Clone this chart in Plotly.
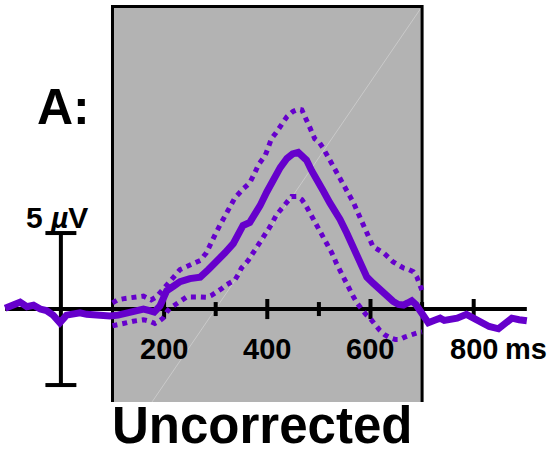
import plotly.graph_objects as go

# ERP waveform (µV) against time (ms)
erp_time = [-108, -90, -79, -66, -53, -40, -28, -15, -2, 11, 24, 37, 50, 63, 80, 95,
            111, 127, 143, 160, 172, 181, 192, 205, 218, 231, 250, 270, 286, 302, 318,
            334, 345, 353, 366, 376, 386, 399, 412, 425, 438, 449, 460, 468, 476, 486,
            496, 508, 521, 531, 541, 554, 567, 580, 593, 605, 618, 631, 644, 654, 664,
            672, 680, 688, 696, 704, 712, 723, 735, 743, 751, 768, 786, 799, 812, 830,
            848, 861, 874, 888, 903]
erp_uv = [0.05, 0.3, 0.45, 0.15, 0.25, 0.0, -0.1, -0.4, -0.9, -0.4, -0.3, -0.25, -0.35,
          -0.4, -0.4, -0.45, -0.4, -0.3, -0.15, 0.0, -0.1, -0.2, 0.2, 1.2, 1.5, 1.8, 2.0,
          2.1, 2.6, 3.1, 3.7, 4.3, 4.9, 5.5, 5.7, 6.2, 6.8, 7.7, 8.6, 9.3, 9.9, 10.2, 10.3,
          10.1, 9.8, 9.1, 8.6, 7.8, 7.0, 6.5, 5.9, 5.0, 4.1, 3.1, 2.1, 1.7, 1.25, 0.8, 0.5,
          0.3, 0.26, 0.4, 0.55, 0.3, -0.1, -0.6, -0.9, -0.75, -0.6, -0.75, -0.7, -0.6,
          -0.35, -0.6, -0.9, -1.15, -1.3, -1.0, -0.6, -0.7, -0.77]

# Upper confidence bound inside the analysis window
upper_time = [100, 110, 125, 140, 160, 175, 185, 198, 210, 220, 231, 244, 257, 270, 282,
              290, 299, 308, 318, 328, 337, 353, 366, 375, 383, 396, 408, 417, 425, 438,
              450, 460, 467, 476, 483, 492, 500, 508, 521, 528, 538, 547, 557, 567, 580,
              593, 605, 615, 625, 635, 644, 654, 664, 674, 683, 690, 695, 700]
upper_uv = [0.4, 0.6, 0.7, 0.8, 0.85, 0.6, 0.8, 1.3, 1.8, 2.2, 2.6, 2.8, 3.0, 3.2, 3.7,
            4.2, 4.9, 5.5, 6.1, 6.7, 7.3, 7.9, 8.3, 8.9, 9.5, 10.1, 11.2, 11.6, 12.0,
            12.65, 13.0, 13.15, 13.1, 12.5, 11.9, 11.2, 11.0, 10.6, 9.8, 9.4, 8.8, 8.2,
            7.6, 7.0, 6.0, 5.0, 4.1, 3.9, 3.7, 3.4, 3.1, 2.9, 2.7, 2.6, 2.45, 2.1, 1.6, 1.2]

# Lower confidence bound inside the analysis window
lower_time = [100, 110, 121, 140, 160, 172, 182, 190, 198, 205, 211, 220, 227, 236, 244,
              263, 283, 292, 302, 312, 321, 337, 344, 350, 363, 371, 379, 392, 405, 418,
              431, 440, 447, 458, 467, 475, 483, 491, 499, 507, 515, 525, 534, 544, 554,
              561, 567, 575, 583, 591, 599, 608, 618, 628, 638, 648, 657, 666, 676, 684,
              692, 700]
lower_uv = [-1.1, -1.05, -0.95, -0.8, -0.7, -0.8, -0.95, -0.8, -0.6, -0.2, 0.05, 0.25,
            0.4, 0.6, 0.8, 0.8, 0.77, 0.9, 1.1, 1.35, 1.6, 1.9, 2.3, 2.7, 3.2, 3.6, 4.0,
            4.65, 5.4, 6.2, 6.8, 7.2, 7.4, 7.4, 7.2, 6.8, 6.3, 5.8, 5.4, 4.9, 4.4, 3.7,
            3.0, 2.3, 1.7, 1.2, 0.8, 0.35, -0.07, -0.35, -0.6, -1.0, -1.4, -1.7, -1.9,
            -2.0, -2.0, -1.85, -1.7, -1.6, -1.55, -1.5]

window_ms = [100, 700]
tick_ms = [200, 300, 400, 500, 600, 700, 800]
tick_labels = ["200", "400", "600", "800"]
time_unit = "ms"
scale_uv = 5
panel_label = "A:"
condition_label = "Uncorrected"

PURPLE = "#6600CC"
FONT = "Liberation Sans, Arial, Helvetica, sans-serif"

fig = go.Figure()

fig.add_trace(go.Scatter(x=upper_time, y=upper_uv, mode="lines",
                         line=dict(color=PURPLE, width=5, dash="5px,5px")))
fig.add_trace(go.Scatter(x=lower_time, y=lower_uv, mode="lines",
                         line=dict(color=PURPLE, width=5, dash="5px,5px")))
fig.add_trace(go.Scatter(x=erp_time, y=erp_uv, mode="lines",
                         line=dict(color=PURPLE, width=7)))

shapes = []
win_bottom, win_top = 0.1126, 0.9857
# shaded analysis window
shapes.append(dict(type="rect", xref="x", yref="paper", x0=window_ms[0], x1=window_ms[1],
                   y0=win_bottom, y1=win_top, fillcolor="#B3B3B3", line=dict(width=0),
                   layer="below"))
# faint diagonal seam across the window
shapes.append(dict(type="line", xref="paper", yref="paper", x0=421 / 553, y0=1 - 8 / 453,
                   x1=152 / 553, y1=win_bottom, line=dict(color="rgba(255,255,255,0.3)", width=1),
                   layer="below"))
# window border on left, top and right
shapes.append(dict(type="path", xref="x", yref="paper",
                   path=f"M {window_ms[0]},{win_bottom} L {window_ms[0]},{win_top} "
                        f"L {window_ms[1]},{win_top} L {window_ms[1]},{win_bottom}",
                   line=dict(color="black", width=3), layer="below"))
# zero baseline
shapes.append(dict(type="line", xref="x", yref="y", x0=min(erp_time), x1=max(erp_time),
                   y0=0, y1=0, line=dict(color="black", width=4), layer="below"))
# time ticks
for t in tick_ms:
    h = 0.66 if t % 200 == 0 else 0.46
    shapes.append(dict(type="line", xref="x", yref="y", x0=t, x1=t, y0=-h, y1=h,
                       line=dict(color="black", width=4), layer="below"))
# amplitude scale bar
shapes.append(dict(type="line", xref="x", yref="y", x0=0, x1=0, y0=-scale_uv, y1=scale_uv,
                   line=dict(color="black", width=4), layer="below"))
for v in (-scale_uv, scale_uv):
    shapes.append(dict(type="line", xref="x", yref="y", x0=-30, x1=30, y0=v, y1=v,
                       line=dict(color="black", width=4), layer="below"))

annotations = []
for lab in tick_labels:
    annotations.append(dict(x=float(lab), y=-2.63, xref="x", yref="y", text=f"<b>{lab}</b>",
                            showarrow=False, xanchor="center", yanchor="middle",
                            font=dict(family=FONT, size=29, color="black")))
annotations.append(dict(x=800, y=-2.63, xref="x", yref="y", text=f"<b>{time_unit}</b>",
                        showarrow=False, xanchor="left", yanchor="middle", xshift=30,
                        borderpad=0, font=dict(family=FONT, size=29, color="black")))
annotations.append(dict(x=57 / 553, y=1 - 217 / 453, xref="paper", yref="paper",
                        text=f"<b>{scale_uv} <i>µ</i>V</b>", showarrow=False, xanchor="center",
                        yanchor="middle", font=dict(family=FONT, size=30, color="black")))
annotations.append(dict(x=63 / 553, y=1 - 107 / 453, xref="paper", yref="paper",
                        text=f"<b>{panel_label}</b>", showarrow=False, xanchor="center",
                        yanchor="middle", font=dict(family=FONT, size=50, color="black")))
annotations.append(dict(x=262 / 553, y=1 - 425 / 453, xref="paper", yref="paper",
                        text=f"<b>{condition_label}</b>", showarrow=False, xanchor="center",
                        yanchor="middle", borderpad=0,
                        font=dict(family=FONT, size=51, color="black")))

fig.update_layout(
    width=553, height=453,
    margin=dict(l=0, r=0, t=0, b=0),
    paper_bgcolor="white", plot_bgcolor="white",
    showlegend=False,
    xaxis=dict(range=[-118.0, 953.7], visible=False, fixedrange=True),
    yaxis=dict(range=[-9.47, 20.33], visible=False, fixedrange=True),
    shapes=shapes,
    annotations=annotations,
)

fig.write_html("out.html")
